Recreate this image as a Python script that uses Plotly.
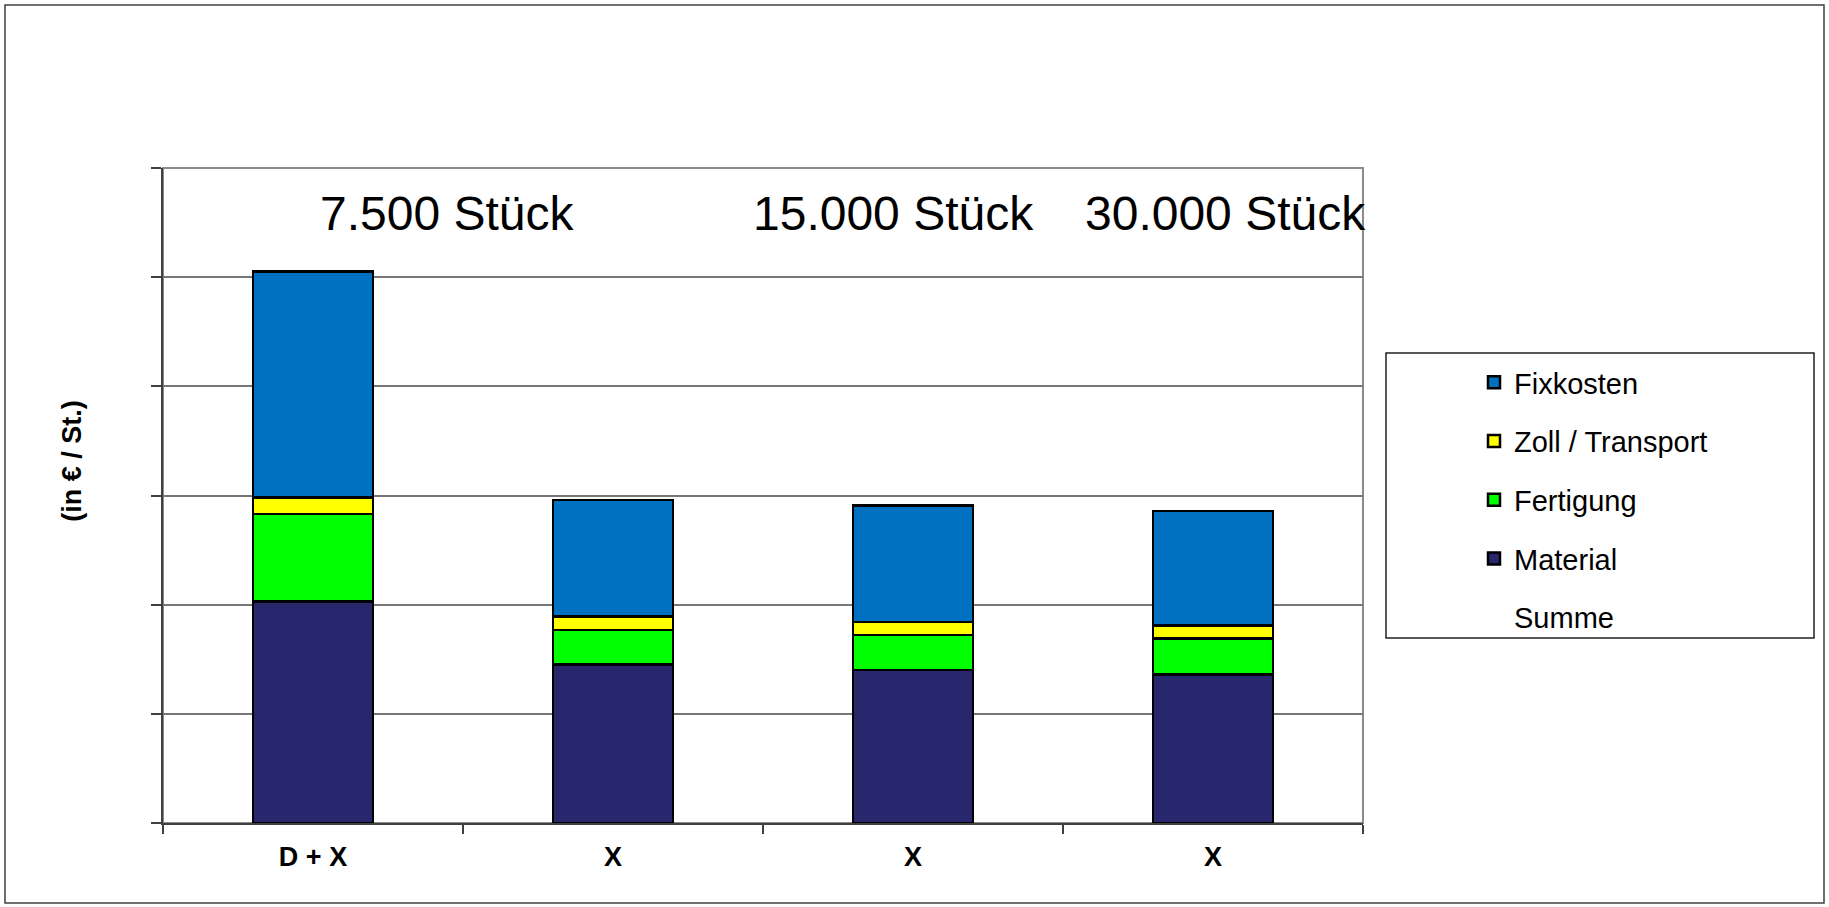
import plotly.graph_objects as go

categories = ["D + X", "X", "X", "X"]
material = [2.03, 1.45, 1.40, 1.36]
fertigung = [0.80, 0.32, 0.32, 0.33]
zoll_transport = [0.15, 0.12, 0.12, 0.12]
fixkosten = [2.07, 1.07, 1.07, 1.05]
summe = [m + f + z + k for m, f, z, k in zip(material, fertigung, zoll_transport, fixkosten)]
volume_labels = ["7.500 Stück", "15.000 Stück", "30.000 Stück"]
volume_label_x = [0.237, 0.609, 0.885]
y_gridvals = [0, 1, 2, 3, 4, 5, 6]

xpos = list(range(len(categories)))
FONT = "Liberation Sans, Arial, sans-serif"

fig = go.Figure()
series = [
    ("Material", material, "#28276E", 4),
    ("Fertigung", fertigung, "#00FF00", 3),
    ("Zoll / Transport", zoll_transport, "#FFFF00", 2),
    ("Fixkosten", fixkosten, "#0070C0", 1),
]
for name, vals, color, rank in series:
    fig.add_trace(go.Bar(
        x=xpos, y=vals, name=name, marker=dict(color=color, line=dict(color="black", width=2.5)),
        legendrank=rank, legendgroup=name, hoverinfo="skip",
    ))
fig.add_trace(go.Scatter(
    x=xpos, y=summe, name="Summe", mode="lines",
    line=dict(color="rgba(0,0,0,0)", width=0), legendrank=5, legendgroup="Summe", hoverinfo="skip",
))

annotations = []
for txt, xp in zip(volume_labels, volume_label_x):
    annotations.append(dict(text=txt, x=xp, y=0.931, xref="paper", yref="paper",
                            showarrow=False, font=dict(size=48, color="black", family=FONT),
                            xanchor="center", yanchor="middle"))
annotations.append(dict(text="<b>(in € / St.)</b>", x=-0.0758, y=0.553, xref="paper", yref="paper",
                        showarrow=False, textangle=-90, font=dict(size=27, color="black", family=FONT),
                        xanchor="center", yanchor="middle"))

shapes = [
    dict(type="rect", xref="paper", yref="paper", x0=0, x1=1, y0=0, y1=1,
         line=dict(color="#8c8c8c", width=2), layer="below"),
    dict(type="rect", xref="paper", yref="paper", x0=(1386 - 163) / 1200, x1=(1814 - 163) / 1200,
         y0=(823 - 638) / 655, y1=(823 - 353) / 655, line=dict(color="#202020", width=1.5)),
    dict(type="rect", xref="paper", yref="paper", x0=(5 - 163) / 1200, x1=(1824 - 163) / 1200,
         y0=(823 - 903) / 655, y1=(823 - 5) / 655, line=dict(color="#404040", width=1.5)),
]

fig.update_layout(
    width=1829, height=907,
    margin=dict(l=163, r=466, t=168, b=84),
    paper_bgcolor="white", plot_bgcolor="white",
    barmode="stack", bargap=0.6,
    font=dict(family=FONT, color="black"),
    showlegend=True,
    legend=dict(x=(1474 - 163) / 1200, y=(823 - 357) / 655, xanchor="left", yanchor="top",
                traceorder="grouped", tracegroupgap=18, font=dict(size=29, family=FONT, color="black"),
                bgcolor="rgba(0,0,0,0)", borderwidth=0),
    annotations=annotations,
    shapes=shapes,
    xaxis=dict(range=[-0.5, 3.5], tickmode="array", tickvals=xpos,
               ticktext=["<b>%s</b>" % c for c in categories],
               ticks="", showline=True, linecolor="#404040", linewidth=2, showgrid=False, zeroline=False,
               tickfont=dict(size=27, family=FONT, color="black"), ticklabelstandoff=9,
               minor=dict(tickmode="array", tickvals=[-0.5, 0.5, 1.5, 2.5, 3.5], ticks="outside",
                          ticklen=9, tickcolor="#404040", tickwidth=2, showgrid=False),
               fixedrange=True),
    yaxis=dict(range=[0, 6], tickmode="array", tickvals=y_gridvals, showticklabels=False,
               ticks="outside", ticklen=10, tickcolor="#404040", tickwidth=2,
               showline=True, linecolor="#404040", linewidth=2, showgrid=True,
               gridcolor="#777777", gridwidth=1.5, zeroline=False, fixedrange=True),
)

fig.write_html("out.html")
